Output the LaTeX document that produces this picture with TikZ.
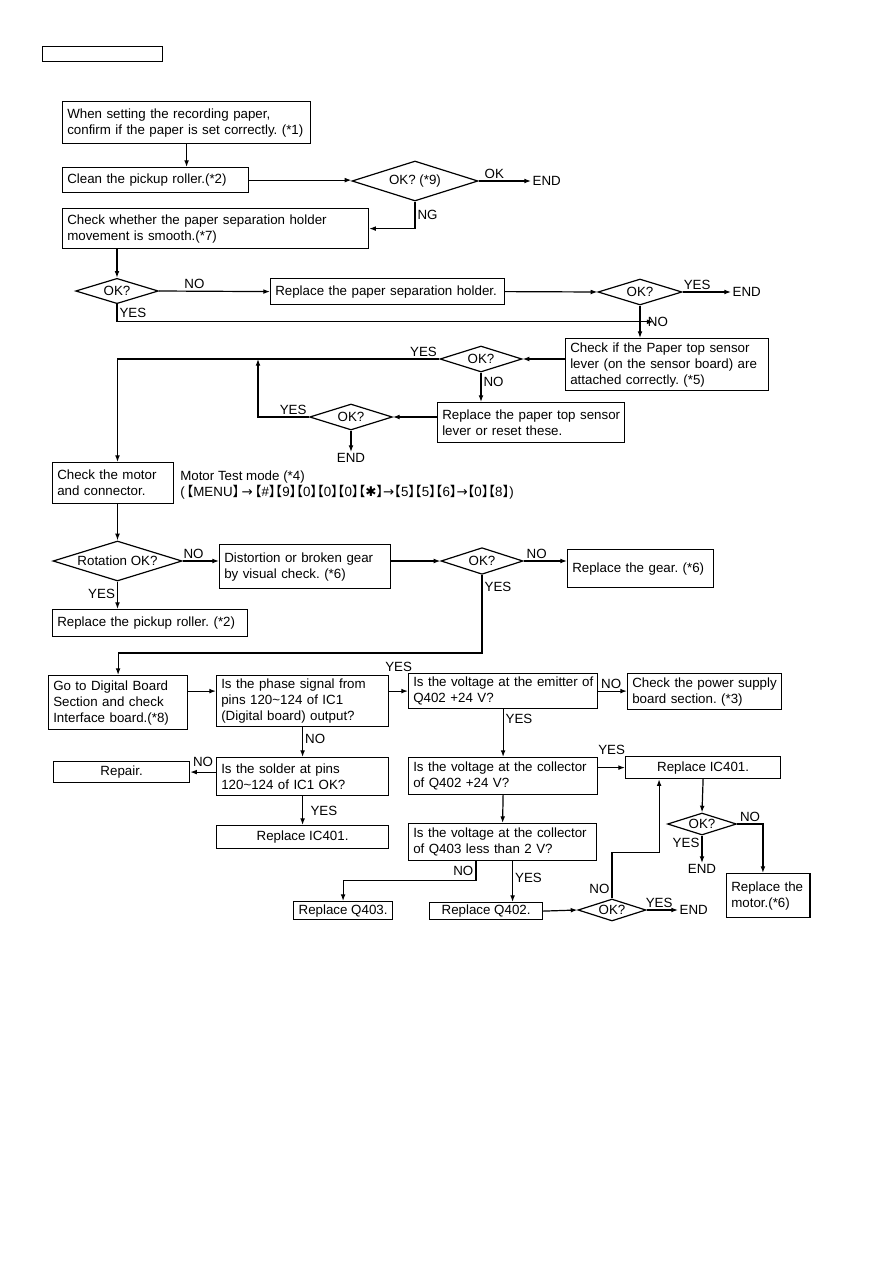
\documentclass[tikz,border=0pt]{standalone}
\usepackage{fontspec}
\setmainfont{Liberation Sans}
\newfontfamily\cjkfont[RawFeature=+halt]{Noto Sans CJK JP}
\newfontfamily\symfont{DejaVu Sans}
\usetikzlibrary{positioning,arrows.meta,shapes.geometric,calc}
\frenchspacing

\newcommand{\kb}[1]{{\cjkfont 【}#1{\cjkfont 】}}
\newcommand{\karrow}{{\symfont →}}

\begin{document}
\begin{tikzpicture}[
    x=0.75pt, y=-0.75pt,
    font=\fontsize{10}{12}\selectfont,
    box/.style={
        rectangle,
        draw,
        line width=0.9pt,
        anchor=north west,
        inner xsep=3.5pt,
        inner ysep=1.5pt,
        execute at begin node={\rightskip=0pt plus 1fil minus 12pt\relax
            \hyphenpenalty=10000\relax}
    },
    cbox/.style={
        box,
        align=center,
        inner xsep=2pt
    },
    decision/.style={
        diamond,
        draw,
        line width=0.9pt,
        aspect=3,
        inner sep=0pt
    },
    endtxt/.style={inner sep=1pt},
    lbl/.style={inner sep=1.5pt},
    arrow/.style={
        -{Latex[length=5pt, width=3.6pt]},
        line width=0.9pt
    }
]

\useasboundingbox (0,0) rectangle (893,1263);

% header frame
\draw[line width=0.7pt] (42,46) rectangle (162,61);

% paper and pickup roller
\node[box, text width=179pt, minimum height=31.5pt] (setpaper) at (62,101)
{When setting the recording paper,\\confirm if the paper is set correctly. (*1)};

\node[box, text width=132.5pt, minimum height=18.75pt] (clean) at (62,167)
{Clean the pickup roller.(*2)};

\node[decision, minimum width=94.5pt, minimum height=30pt] (okclean) at (415,181)
{OK? (*9)};

\node[endtxt, anchor=west] (endA) at (531,181) {END};

\node[box, text width=222.5pt, minimum height=30pt] (holder) at (62,208)
{Check whether the paper separation holder\\movement is smooth.(*7)};

\node[decision, minimum width=62pt, minimum height=19pt] (okholder) at (117,291) {OK?};

\node[box, text width=168.5pt, minimum height=19.5pt] (repholder) at (270,278)
{Replace the paper separation holder.};

\node[decision, minimum width=63pt, minimum height=19.5pt] (okrep) at (640,292) {OK?};

\node[endtxt, anchor=west] (endB) at (731,292) {END};

% paper top sensor
\node[box, text width=145.25pt, minimum height=39pt] (lever) at (565,338)
{Check if the Paper top sensor\\lever (on the sensor board) are\\attached correctly. (*5)};

\node[decision, minimum width=61.5pt, minimum height=19.5pt] (oklever) at (481,359) {OK?};

\node[box, text width=133.25pt, minimum height=30pt] (replever) at (437,402)
{Replace the paper top sensor\\lever or reset these.};

\node[decision, minimum width=62pt, minimum height=19.5pt] (okreplever) at (351,417) {OK?};

\node[endtxt, anchor=north] (endC) at (351,452) {END};

% motor
\node[box, text width=83.75pt, minimum height=30.75pt] (motor) at (52,462)
{Check the motor\\and connector.};

\node[anchor=north west, align=left, inner sep=0pt] (testmode) at (180,471)
{Motor Test mode (*4)\\(\kern1.5pt\kb{MENU}\,\karrow\,\kb{\#}\kb{9}\kb{0}\kb{0}\kb{0}\kb{{\symfont ✱}}\karrow\kb{5}\kb{5}\kb{6}\karrow\kb{0}\kb{8})};

\node[decision, minimum width=96.75pt, minimum height=30pt] (rotation) at (117.5,561)
{Rotation OK?};

\node[box, text width=121.25pt, minimum height=33pt] (gear) at (219,544)
{Distortion or broken gear\\by visual check. (*6)};

\node[decision, minimum width=61.5pt, minimum height=20pt] (okgear) at (482,561) {OK?};

\node[box, text width=102.5pt, minimum height=28.5pt] (repgear) at (567,549)
{Replace the gear. (*6)};

\node[box, text width=139.25pt, minimum height=20.25pt] (reproller) at (52,609)
{Replace the pickup roller. (*2)};

% digital board and drive transistors
\node[box, text width=97.25pt, minimum height=40.5pt] (digital) at (48,675)
{Go to Digital Board\\Section and check\\Interface board.(*8)};

\node[box, text width=122pt, minimum height=38.25pt] (phase) at (216,675)
{Is the phase signal from\\pins 120\textasciitilde124 of IC1\\(Digital board) output?};

\node[box, text width=134.75pt, minimum height=26.25pt] (emitter) at (408,673)
{Is the voltage at the emitter of\\Q402 +24 V?};

\node[box, text width=108.5pt, minimum height=27pt] (power) at (627,673)
{Check the power supply\\board section. (*3)};

\node[box, text width=122pt, minimum height=28.5pt] (solder) at (216,757)
{Is the solder at pins\\120\textasciitilde124 of IC1 OK?};

\node[cbox, minimum width=102pt, minimum height=15.75pt] (repair) at (53,761) {Repair.};

\node[cbox, minimum width=129pt, minimum height=17.25pt] (repicA) at (216,825) {Replace IC401.};

\node[box, text width=134.75pt, minimum height=27.75pt] (collA) at (408,757)
{Is the voltage at the collector\\of Q402 +24 V?};

\node[cbox, minimum width=116.25pt, minimum height=16.5pt] (repicB) at (625,756) {Replace IC401.};

\node[decision, minimum width=51.75pt, minimum height=16.5pt] (okic) at (702,824) {OK?};

\node[endtxt, anchor=north] (endD) at (702,863) {END};

\node[box, text width=55.5pt, minimum height=33pt] (repmotor) at (726,873)
{Replace the\\motor.(*6)};

\node[box, text width=134pt, minimum height=27.75pt] (collB) at (408,823)
{Is the voltage at the collector\\of Q403 less than 2 V?};

\node[cbox, minimum width=74.25pt, minimum height=13.5pt] (repqA) at (293,901) {Replace Q403.};

\node[cbox, minimum width=84.75pt, minimum height=12.75pt] (repqB) at (429,902) {Replace Q402.};

\node[decision, minimum width=51pt, minimum height=16.5pt] (okq) at (612,910) {OK?};

\node[endtxt, anchor=west] (endE) at (678,910) {END};

\coordinate (joinA) at ($(okrep.south)!0.5!(lever.north)$);
\coordinate (joinB) at (258,359);

% connectors
\draw[arrow] (setpaper.south) -- (setpaper.south |- clean.north);
\draw[arrow] (clean.east) -- (clean.east -| okclean.west);
\draw[arrow] (okclean.east) -- node[lbl, above, pos=0.3] {OK} (endA.west);
\draw[arrow] (okclean.south) |- node[lbl, right, pos=0.25] {NG} (holder.east);
\draw[arrow] (holder.south -| okholder.north) -- (okholder.north);
\draw[arrow] (okholder.east) -- node[lbl, above, pos=0.32] {NO} (repholder.west);
\draw[arrow] (okholder.south) |- node[lbl, right, pos=0.25] {YES} (joinA);
\draw[arrow] (repholder.east) -- (okrep.west);
\draw[arrow] (okrep.east) -- node[lbl, above, pos=0.3] {YES} (endB.west);
\draw[arrow] (okrep.south) -- node[lbl, right=4pt] {NO} (okrep.south |- lever.north);
\draw[arrow] (oklever.east -| lever.west) -- (oklever.east);
\draw[arrow] (oklever.west) -| node[lbl, above left, pos=0] {YES} (rotation.north |- motor.north);
\draw[arrow] (oklever.south) -- node[lbl, right, pos=0.3] {NO} (oklever.south |- replever.north);
\draw[arrow] (okreplever.east -| replever.west) -- (okreplever.east);
\draw[arrow] (okreplever.west) -| node[lbl, above left, pos=0] {YES} (joinB);
\draw[arrow] (okreplever.south) -- (endC.north);
\draw[arrow] (motor.south -| rotation.north) -- (rotation.north);
\draw[arrow] (rotation.east) -- node[lbl, above, pos=0.3] {NO} (rotation.east -| gear.west);
\draw[arrow] (rotation.south) -- node[lbl, left, pos=0.45] {YES} (rotation.south |- reproller.north);
\draw[arrow] (okgear.west -| gear.east) -- (okgear.west);
\draw[arrow] (okgear.east) -- node[lbl, above, pos=0.3] {NO} (okgear.east -| repgear.west);
\draw[arrow] (okgear.south) -- node[lbl, right, pos=0.15] {YES} ++(0,78) -| (digital.north);
\draw[arrow] (emitter.west -| digital.east) -- (emitter.west -| phase.west);
\draw[arrow] (emitter.west -| phase.east) -- node[lbl, above=13pt] {YES} (emitter.west);
\draw[arrow] (phase.south) -- node[lbl, right, pos=0.4] {NO} (solder.north);
\draw[arrow] (repair.east -| solder.west) -- node[lbl, above=2pt] {NO} (repair.east);
\draw[arrow] (solder.south) -- node[lbl, right=4pt] {YES} (repicA.north);
\draw[arrow] (emitter.east) -- node[lbl, above, pos=0.45] {NO} (emitter.east -| power.west);
\draw[arrow] (emitter.south) -- node[lbl, right, pos=0.2] {YES} (collA.north);
\draw[arrow] (repicB.west -| collA.east) -- node[lbl, above=8pt] {YES} (repicB.west);
\draw[arrow] (collA.south) -- (collB.north);
\draw[arrow] (repicB.south) -- (okic.north);
\draw[arrow] (okic.south) -- node[lbl, left, pos=0.25] {YES} (endD.north);
\draw[arrow] (okic.east) -| node[lbl, above, pos=0.25] {NO} ([xshift=-4pt]repmotor.north);
\draw[arrow] ([xshift=-20pt]collB.south) -- node[lbl, left] {NO} ++(0,19) -| (repqA.north);
\draw[arrow] ([xshift=7.5pt]collB.south) -- node[lbl, right, pos=0.4] {YES} ([xshift=7.5pt]collB.south |- repqB.north);
\draw[arrow] (repqB.east) -- (okq.west);
\draw[arrow] (okq.east) -- node[lbl, above, pos=0.4] {YES} (endE.west);
\draw[arrow] (okq.north) -- node[lbl, left, pos=0.2] {NO} ++(0,-46) -| ([xshift=-33pt]repicB.south);

\end{tikzpicture}
\end{document}
